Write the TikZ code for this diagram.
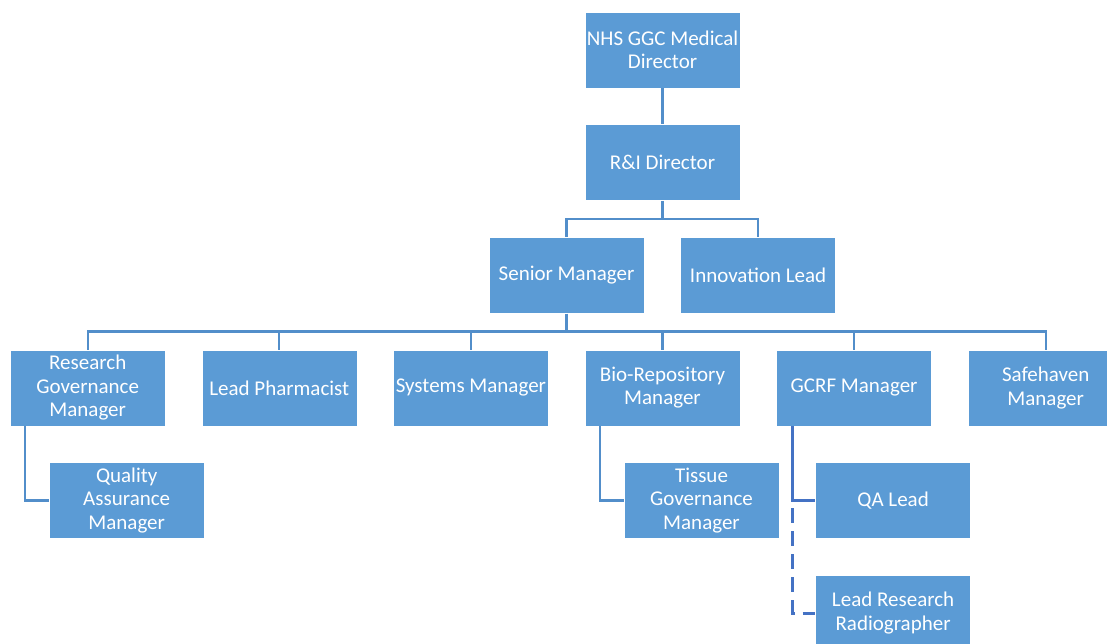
\documentclass[tikz,border=0pt]{standalone}
\usepackage{fontspec}
\setmainfont{Carlito}
\usepackage{tikz}
\usetikzlibrary{positioning}
\definecolor{boxblue}{RGB}{91,155,213}
\definecolor{lineblue}{RGB}{82,142,202}
\definecolor{darkline}{RGB}{68,114,196}
\tikzstyle{post} = [rectangle, minimum width=155pt, minimum height=76pt, inner sep=0pt, text centered, align=center, draw=white, line width=0.6pt, fill=boxblue, text=white, font=\fontsize{21}{23.5}\selectfont]
\tikzstyle{link} = [draw=lineblue, line width=2.2pt]
\tikzstyle{strong} = [draw=darkline, line width=3pt]
\tikzstyle{dotted link} = [draw=darkline, line width=3pt, dash pattern=on 15pt off 8pt, dash phase=15pt]

\begin{document}
\begin{tikzpicture}[node distance=36pt]

\path[use as bounding box, clip] (0,0) rectangle (1107pt,-644pt);

\node (nhs) [post] at (662.5pt,-50pt) {NHS GGC Medical\\Director};
\node (ri) [post, below=of nhs] {R\&I Director};
\node (senior) [post, below=of ri, xshift=-96pt] {Senior Manager};
\node (innov) [post, right=of senior] {Innovation Lead};
\node (bio) [post, below=of senior, xshift=96pt] {Bio-Repository\\Manager};
\node (systems) [post, left=of bio] {Systems Manager};
\node (pharm) [post, left=of systems] {Lead Pharmacist};
\node (rgm) [post, left=of pharm] {Research\\Governance\\Manager};
\node (gcrf) [post, right=of bio] {GCRF Manager};
\node (safe) [post, right=of gcrf] {Safehaven\\Manager};
\node (qam) [post, below=of rgm, xshift=39pt] {Quality\\Assurance\\Manager};
\node (tissue) [post, below=of bio, xshift=39pt] {Tissue\\Governance\\Manager};
\node (qalead) [post, below=of gcrf, xshift=39pt] {QA Lead};
\node (radio) [post, below=of qalead] {Lead Research\\Radiographer};

\draw [link] (nhs) -- (ri);
\draw [link] (ri.south) -- ++(0,-18pt) coordinate (top) -| (senior.north);
\draw [link] (top) -| (innov.north);
\draw [link] (senior.south) -- ++(0,-18pt) coordinate (bus);
\foreach \n in {rgm, pharm, systems, bio, gcrf, safe}
  \draw [link] (bus) -| (\n.north);
\draw [link] ([xshift=15pt]rgm.south west) |- (qam.west);
\draw [link] ([xshift=15pt]bio.south west) |- (tissue.west);
\draw [strong] ([xshift=16pt]gcrf.south west) |- (qalead.west);
\coordinate (split) at ([xshift=16pt]gcrf.south west |- qalead.west);
\draw [dotted link] (split) |- (radio.west);

\end{tikzpicture}
\end{document}
